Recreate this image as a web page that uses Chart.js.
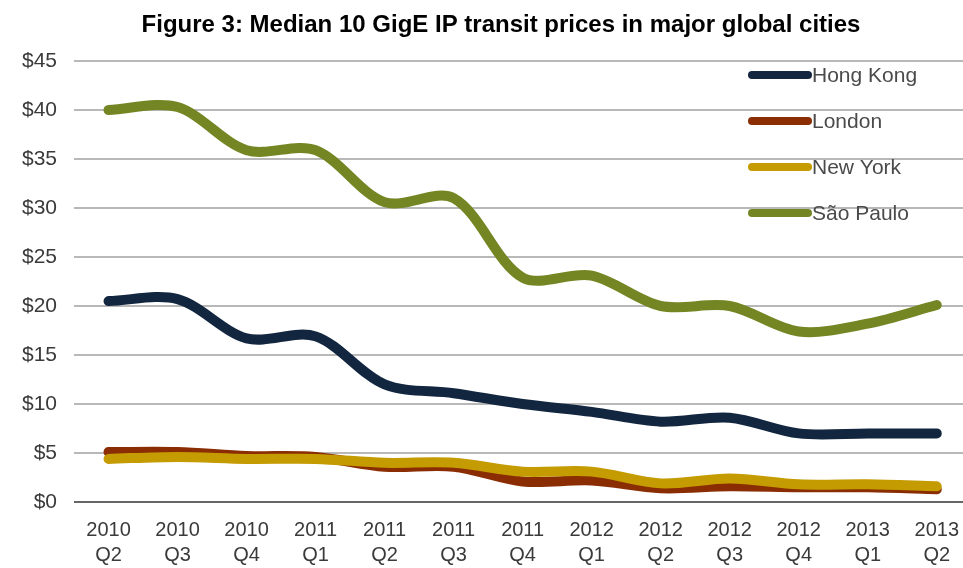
<!DOCTYPE html>
<html>
<head>
<meta charset="utf-8">
<script src="https://cdn.jsdelivr.net/npm/chart.js@4.4.1/dist/chart.umd.min.js"></script>
<style>
  html, body { margin: 0; padding: 0; background: #fff; overflow: hidden; }
  #wrap { width: 963px; height: 568px; overflow: hidden; }
</style>
</head>
<body>
<div id="wrap"><canvas id="priceChart" width="975" height="568"></canvas></div>
<script>
//------------------------------ DATA ----------------------------------
const quarters = [
    ['2010', 'Q2'], ['2010', 'Q3'], ['2010', 'Q4'], ['2011', 'Q1'], ['2011', 'Q2'],
    ['2011', 'Q3'], ['2011', 'Q4'], ['2012', 'Q1'], ['2012', 'Q2'], ['2012', 'Q3'],
    ['2012', 'Q4'], ['2013', 'Q1'], ['2013', 'Q2']
];
const hongKong  = [20.5, 20.7, 16.7, 16.9, 12.0, 11.1, 10.0, 9.2, 8.2, 8.6, 7.0, 7.0, 7.0];
const london    = [5.1, 5.1, 4.7, 4.6, 3.6, 3.6, 2.1, 2.2, 1.4, 1.6, 1.5, 1.5, 1.3];
const newYork   = [4.4, 4.6, 4.4, 4.4, 4.0, 4.0, 3.1, 3.1, 1.9, 2.4, 1.8, 1.8, 1.6];
const saoPaulo  = [40.0, 40.3, 35.9, 35.9, 30.6, 31.0, 22.9, 23.1, 20.0, 20.0, 17.4, 18.2, 20.1];
const yTicks    = [0, 5, 10, 15, 20, 25, 30, 35, 40, 45];
const titleText = 'Figure 3: Median 10 GigE IP transit prices in major global cities';

//------------------------------ PLUGINS ----------------------------------
// Judul digambar manual supaya posisinya pas
const titlePlugin = {
    id: 'titlePlugin',
    afterDraw(chart) {
        const ctx = chart.ctx;
        ctx.save();
        ctx.font = 'bold 24px "Liberation Sans", Arial, sans-serif';
        ctx.fillStyle = '#000';
        ctx.textAlign = 'center';
        ctx.textBaseline = 'middle';
        ctx.fillText(titleText, 501, 25);
        ctx.restore();
    }
};

// Legend di dalam area chart (kanan atas)
const insideLegend = {
    id: 'insideLegend',
    afterDraw(chart) {
        const ctx = chart.ctx;
        ctx.save();
        ctx.font = '21px "Liberation Sans", Arial, sans-serif';
        ctx.textBaseline = 'middle';
        chart.data.datasets.forEach((ds, row) => {
            const y = 75 + row * 46;
            ctx.strokeStyle = ds.borderColor;
            ctx.lineWidth = 8;
            ctx.lineCap = 'round';
            ctx.beginPath();
            ctx.moveTo(752, y);
            ctx.lineTo(808, y);
            ctx.stroke();
            ctx.fillStyle = '#4a4a4a';
            ctx.fillText(ds.label, 812, y + 1);
        });
        ctx.restore();
    }
};

//------------------------------ LINE CHART ----------------------------------
function makeDataset(label, values, color, order) {
    return {
        label: label,
        data: values,
        borderColor: color,
        backgroundColor: color,
        borderWidth: 10,
        borderCapStyle: 'round',
        borderJoinStyle: 'round',
        tension: 0.32,
        pointRadius: 0,
        fill: false,
        order: order
    };
}

const ctx = document.getElementById('priceChart').getContext('2d');
new Chart(ctx, {
    type: 'line',
    data: {
        labels: quarters,
        datasets: [
            makeDataset('Hong Kong', hongKong, '#13263f', 1),
            makeDataset('London', london, '#8a2d03', 2),
            makeDataset('New York', newYork, '#c59b02', 0),
            makeDataset('São Paulo', saoPaulo, '#738623', 1)
        ]
    },
    options: {
        responsive: false,
        animation: false,
        devicePixelRatio: 1,
        layout: { padding: { top: 61, right: 0, left: 0, bottom: 0 } },
        plugins: {
            legend: { display: false },
            title: { display: false },
            tooltip: { enabled: false }
        },
        scales: {
            x: {
                offset: true,
                afterFit(scale) { scale.height = 66; },
                grid: { display: false, drawTicks: false },
                border: { display: false },
                ticks: {
                    color: '#3a3a3a',
                    font: { family: '"Liberation Sans", Arial, sans-serif', size: 20, lineHeight: 1.25 },
                    padding: 16,
                    maxRotation: 0,
                    autoSkip: false
                }
            },
            y: {
                min: 0,
                max: 45,
                afterFit(scale) { scale.width = 74; },
                afterBuildTicks(scale) { scale.ticks = yTicks.map(v => ({ value: v })); },
                grid: {
                    drawTicks: false,
                    lineWidth: 2,
                    color: ctx => ctx.tick && ctx.tick.value === 0 ? '#666' : '#b8b8b8'
                },
                border: { display: false },
                ticks: {
                    color: '#3a3a3a',
                    font: { family: '"Liberation Sans", Arial, sans-serif', size: 21 },
                    padding: 17,
                    callback: v => '$' + v
                }
            }
        }
    },
    plugins: [titlePlugin, insideLegend]
});
</script>
</body>
</html>
